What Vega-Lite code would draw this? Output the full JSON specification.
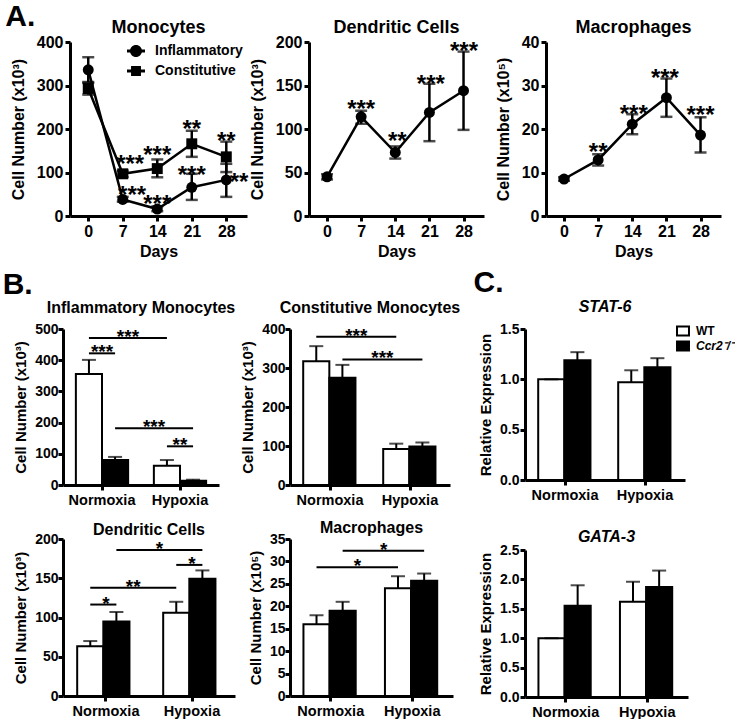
{
 "$schema": "https://vega.github.io/schema/vega-lite/v6.json",
 "padding": {"left": 2, "top": 2, "right": 0, "bottom": 0},
 "background": "white",
 "config": {
  "font": "Liberation Sans",
  "view": {"stroke": null},
  "axis": {"domain": true, "ticks": true, "labelOverlap": false, "domainColor": "#000000", "domainOpacity": 1, "domainWidth": 3, "tickColor": "#000000", "tickOpacity": 1, "tickWidth": 3, "tickSize": 5, "labelColor": "black", "labelFontWeight": "bold", "labelFont": "Liberation Sans", "titleFont": "Liberation Sans", "titleColor": "black", "titleFontWeight": "bold", "grid": false, "labelPadding": 2, "labelFontSize": 14.5, "titleFontSize": 15, "titlePadding": 6},
  "title": {"font": "Liberation Sans", "color": "black", "fontWeight": "bold", "fontSize": 16},
  "legend": {"labelFont": "Liberation Sans", "labelFontWeight": "bold", "labelColor": "black"},
  "text": {"font": "Liberation Sans"}
 },
 "datasets": {
  "ts": [
   {"panel": "Monocytes", "series": "Inflammatory", "day": 0, "mean": 336, "lo": 308, "hi": 365},
   {"panel": "Monocytes", "series": "Inflammatory", "day": 7, "mean": 38, "lo": 33, "hi": 44},
   {"panel": "Monocytes", "series": "Inflammatory", "day": 14, "mean": 16, "lo": 11, "hi": 22},
   {"panel": "Monocytes", "series": "Inflammatory", "day": 21, "mean": 66, "lo": 37, "hi": 97},
   {"panel": "Monocytes", "series": "Inflammatory", "day": 28, "mean": 83, "lo": 44, "hi": 120},
   {"panel": "Monocytes", "series": "Constitutive", "day": 0, "mean": 293, "lo": 279, "hi": 306},
   {"panel": "Monocytes", "series": "Constitutive", "day": 7, "mean": 97, "lo": 90, "hi": 104},
   {"panel": "Monocytes", "series": "Constitutive", "day": 14, "mean": 109, "lo": 89, "hi": 130},
   {"panel": "Monocytes", "series": "Constitutive", "day": 21, "mean": 166, "lo": 136, "hi": 196},
   {"panel": "Monocytes", "series": "Constitutive", "day": 28, "mean": 136, "lo": 101, "hi": 171},
   {"panel": "DC", "series": "DC", "day": 0, "mean": 45, "lo": 42, "hi": 48},
   {"panel": "DC", "series": "DC", "day": 7, "mean": 114, "lo": 106, "hi": 121},
   {"panel": "DC", "series": "DC", "day": 14, "mean": 73, "lo": 66, "hi": 80},
   {"panel": "DC", "series": "DC", "day": 21, "mean": 119, "lo": 86, "hi": 152},
   {"panel": "DC", "series": "DC", "day": 28, "mean": 144, "lo": 99, "hi": 189},
   {"panel": "Macro", "series": "Macro", "day": 0, "mean": 8.5, "lo": 8.1, "hi": 8.9},
   {"panel": "Macro", "series": "Macro", "day": 7, "mean": 12.9, "lo": 11.6, "hi": 14.2},
   {"panel": "Macro", "series": "Macro", "day": 14, "mean": 21.1, "lo": 18.8, "hi": 23.4},
   {"panel": "Macro", "series": "Macro", "day": 21, "mean": 27.2, "lo": 22.8, "hi": 31.6},
   {"panel": "Macro", "series": "Macro", "day": 28, "mean": 18.6, "lo": 14.6, "hi": 22.7}
  ],
  "tsStar": [
   {"panel": "Monocytes", "day": 8.5, "y": 124, "label": "***"},
   {"panel": "Monocytes", "day": 14, "y": 145, "label": "***"},
   {"panel": "Monocytes", "day": 21, "y": 204, "label": "**"},
   {"panel": "Monocytes", "day": 28, "y": 177, "label": "**"},
   {"panel": "Monocytes", "day": 8.9, "y": 53, "label": "***"},
   {"panel": "Monocytes", "day": 14, "y": 32, "label": "***"},
   {"panel": "Monocytes", "day": 21, "y": 99, "label": "***"},
   {"panel": "Monocytes", "day": 30.6, "y": 83, "label": "**"},
   {"panel": "DC", "day": 7, "y": 125, "label": "***"},
   {"panel": "DC", "day": 14.4, "y": 88, "label": "**"},
   {"panel": "DC", "day": 21.3, "y": 154, "label": "***"},
   {"panel": "DC", "day": 28.1, "y": 192, "label": "***"},
   {"panel": "Macro", "day": 7, "y": 15.2, "label": "**"},
   {"panel": "Macro", "day": 14.3, "y": 24, "label": "***"},
   {"panel": "Macro", "day": 20.7, "y": 32.1, "label": "***"},
   {"panel": "Macro", "day": 28, "y": 23.7, "label": "***"}
  ],
  "bars": [
   {"panel": "Inflam", "condition": "Normoxia", "genotype": "WT", "mean": 356, "hi": 401},
   {"panel": "Inflam", "condition": "Normoxia", "genotype": "Ccr2-/-", "mean": 80, "hi": 90},
   {"panel": "Inflam", "condition": "Hypoxia", "genotype": "WT", "mean": 62, "hi": 80},
   {"panel": "Inflam", "condition": "Hypoxia", "genotype": "Ccr2-/-", "mean": 14, "hi": 17},
   {"panel": "Constit", "condition": "Normoxia", "genotype": "WT", "mean": 317, "hi": 356},
   {"panel": "Constit", "condition": "Normoxia", "genotype": "Ccr2-/-", "mean": 275, "hi": 308},
   {"panel": "Constit", "condition": "Hypoxia", "genotype": "WT", "mean": 92, "hi": 106},
   {"panel": "Constit", "condition": "Hypoxia", "genotype": "Ccr2-/-", "mean": 99, "hi": 109},
   {"panel": "DCB", "condition": "Normoxia", "genotype": "WT", "mean": 63.5, "hi": 70},
   {"panel": "DCB", "condition": "Normoxia", "genotype": "Ccr2-/-", "mean": 95, "hi": 107},
   {"panel": "DCB", "condition": "Hypoxia", "genotype": "WT", "mean": 106, "hi": 120},
   {"panel": "DCB", "condition": "Hypoxia", "genotype": "Ccr2-/-", "mean": 149.5, "hi": 160},
   {"panel": "MacroB", "condition": "Normoxia", "genotype": "WT", "mean": 16, "hi": 18},
   {"panel": "MacroB", "condition": "Normoxia", "genotype": "Ccr2-/-", "mean": 19, "hi": 21},
   {"panel": "MacroB", "condition": "Hypoxia", "genotype": "WT", "mean": 24, "hi": 26.7},
   {"panel": "MacroB", "condition": "Hypoxia", "genotype": "Ccr2-/-", "mean": 25.7, "hi": 27.3},
   {"panel": "STAT6", "condition": "Normoxia", "genotype": "WT", "mean": 1.0, "hi": 1.0},
   {"panel": "STAT6", "condition": "Normoxia", "genotype": "Ccr2-/-", "mean": 1.19, "hi": 1.27},
   {"panel": "STAT6", "condition": "Hypoxia", "genotype": "WT", "mean": 0.97, "hi": 1.09},
   {"panel": "STAT6", "condition": "Hypoxia", "genotype": "Ccr2-/-", "mean": 1.12, "hi": 1.21},
   {"panel": "GATA3", "condition": "Normoxia", "genotype": "WT", "mean": 1.0, "hi": 1.0},
   {"panel": "GATA3", "condition": "Normoxia", "genotype": "Ccr2-/-", "mean": 1.55, "hi": 1.9},
   {"panel": "GATA3", "condition": "Hypoxia", "genotype": "WT", "mean": 1.62, "hi": 1.96},
   {"panel": "GATA3", "condition": "Hypoxia", "genotype": "Ccr2-/-", "mean": 1.87, "hi": 2.15}
  ],
  "sigLine": [
   {"panel": "Inflam", "pair": 1, "condition": "Normoxia", "genotype": "WT", "y": 471},
   {"panel": "Inflam", "pair": 1, "condition": "Hypoxia", "genotype": "WT", "y": 471},
   {"panel": "Inflam", "pair": 2, "condition": "Normoxia", "genotype": "WT", "y": 422},
   {"panel": "Inflam", "pair": 2, "condition": "Normoxia", "genotype": "Ccr2-/-", "y": 422},
   {"panel": "Inflam", "pair": 3, "condition": "Normoxia", "genotype": "Ccr2-/-", "y": 182},
   {"panel": "Inflam", "pair": 3, "condition": "Hypoxia", "genotype": "Ccr2-/-", "y": 182},
   {"panel": "Inflam", "pair": 4, "condition": "Hypoxia", "genotype": "WT", "y": 124},
   {"panel": "Inflam", "pair": 4, "condition": "Hypoxia", "genotype": "Ccr2-/-", "y": 124},
   {"panel": "Constit", "pair": 1, "condition": "Normoxia", "genotype": "WT", "y": 380},
   {"panel": "Constit", "pair": 1, "condition": "Hypoxia", "genotype": "WT", "y": 380},
   {"panel": "Constit", "pair": 2, "condition": "Normoxia", "genotype": "Ccr2-/-", "y": 322},
   {"panel": "Constit", "pair": 2, "condition": "Hypoxia", "genotype": "Ccr2-/-", "y": 322},
   {"panel": "DCB", "pair": 1, "condition": "Normoxia", "genotype": "WT", "y": 116.5},
   {"panel": "DCB", "pair": 1, "condition": "Normoxia", "genotype": "Ccr2-/-", "y": 116.5},
   {"panel": "DCB", "pair": 2, "condition": "Normoxia", "genotype": "WT", "y": 138},
   {"panel": "DCB", "pair": 2, "condition": "Hypoxia", "genotype": "WT", "y": 138},
   {"panel": "DCB", "pair": 3, "condition": "Normoxia", "genotype": "Ccr2-/-", "y": 186},
   {"panel": "DCB", "pair": 3, "condition": "Hypoxia", "genotype": "Ccr2-/-", "y": 186},
   {"panel": "DCB", "pair": 4, "condition": "Hypoxia", "genotype": "WT", "y": 167},
   {"panel": "DCB", "pair": 4, "condition": "Hypoxia", "genotype": "Ccr2-/-", "y": 167},
   {"panel": "MacroB", "pair": 1, "condition": "Normoxia", "genotype": "WT", "y": 28.7},
   {"panel": "MacroB", "pair": 1, "condition": "Hypoxia", "genotype": "WT", "y": 28.7},
   {"panel": "MacroB", "pair": 2, "condition": "Normoxia", "genotype": "Ccr2-/-", "y": 32.4},
   {"panel": "MacroB", "pair": 2, "condition": "Hypoxia", "genotype": "Ccr2-/-", "y": 32.4}
  ],
  "sigText": [
   {"panel": "Inflam", "kind": "between", "condition": "Normoxia", "genotype": "WT", "y": 471, "label": "***"},
   {"panel": "Inflam", "kind": "within", "condition": "Normoxia", "genotype": "WT", "y": 422, "label": "***"},
   {"panel": "Inflam", "kind": "between", "condition": "Normoxia", "genotype": "Ccr2-/-", "y": 182, "label": "***"},
   {"panel": "Inflam", "kind": "within", "condition": "Hypoxia", "genotype": "WT", "y": 124, "label": "**"},
   {"panel": "Constit", "kind": "between", "condition": "Normoxia", "genotype": "WT", "y": 380, "label": "***"},
   {"panel": "Constit", "kind": "between", "condition": "Normoxia", "genotype": "Ccr2-/-", "y": 322, "label": "***"},
   {"panel": "DCB", "kind": "within", "condition": "Normoxia", "genotype": "WT", "y": 116.5, "label": "*"},
   {"panel": "DCB", "kind": "between", "condition": "Normoxia", "genotype": "WT", "y": 138, "label": "**"},
   {"panel": "DCB", "kind": "between", "condition": "Normoxia", "genotype": "Ccr2-/-", "y": 186, "label": "*"},
   {"panel": "DCB", "kind": "within", "condition": "Hypoxia", "genotype": "WT", "y": 167, "label": "*"},
   {"panel": "MacroB", "kind": "between", "condition": "Normoxia", "genotype": "WT", "y": 28.7, "label": "*"},
   {"panel": "MacroB", "kind": "between", "condition": "Normoxia", "genotype": "Ccr2-/-", "y": 32.4, "label": "*"}
  ]
 },
 "spacing": 9,
 "resolve": {"scale": {"fill": "independent", "shape": "independent"}, "legend": {"fill": "independent", "shape": "independent"}},
 "vconcat": [
  {
   "bounds": "flush",
   "spacing": 6,
   "hconcat": [
    {"width": 1, "height": 1, "data": {"values": []}, "mark": {"type": "point", "opacity": 0}, "encoding": {}},
    {
     "title": {"text": "A.", "fontSize": 30, "anchor": "start", "offset": -13, "dx": -5},
     "bounds": "flush",
     "spacing": 62,
     "hconcat": [
      {
       "width": 177, "height": 174,
       "title": {"text": "Monocytes", "fontSize": 18, "offset": -3},
       "data": {"name": "ts"},
       "transform": [{"filter": "datum.panel == 'Monocytes'"}],
       "encoding": {"x": {"field": "day", "type": "quantitative", "scale": {"domain": [-3.7, 32.2], "nice": false, "zero": false}, "axis": {"values": [0, 7, 14, 21, 28], "title": "Days", "labelFontSize": 16, "titleFontSize": 16, "labelFlush": false, "labelPadding": 2, "titlePadding": 4}}},
       "layer": [
        {"mark": {"type": "rule", "color": "black", "strokeWidth": 2.5}, "encoding": {"y": {"field": "lo", "type": "quantitative", "scale": {"domain": [0, 400], "nice": false}, "title": "Cell Number (x10³)", "axis": {"values": [0, 100, 200, 300, 400], "labelFontSize": 16, "titleFontSize": 16, "titlePadding": 10}}, "y2": {"field": "hi"}}},
        {"mark": {"type": "tick", "orient": "horizontal", "color": "black", "size": 12, "thickness": 2.5}, "encoding": {"y": {"field": "lo", "type": "quantitative", "scale": {"domain": [0, 400], "nice": false}, "title": "Cell Number (x10³)", "axis": {"values": [0, 100, 200, 300, 400], "labelFontSize": 16, "titleFontSize": 16, "titlePadding": 10}}}},
        {"mark": {"type": "tick", "orient": "horizontal", "color": "black", "size": 12, "thickness": 2.5}, "encoding": {"y": {"field": "hi", "type": "quantitative", "scale": {"domain": [0, 400], "nice": false}, "title": "Cell Number (x10³)", "axis": {"values": [0, 100, 200, 300, 400], "labelFontSize": 16, "titleFontSize": 16, "titlePadding": 10}}}},
        {"mark": {"type": "line", "color": "black", "strokeWidth": 2.5}, "encoding": {"y": {"field": "mean", "type": "quantitative", "scale": {"domain": [0, 400], "nice": false}, "title": "Cell Number (x10³)", "axis": {"values": [0, 100, 200, 300, 400], "labelFontSize": 16, "titleFontSize": 16, "titlePadding": 10}}, "detail": {"field": "series"}}},
        {"mark": {"type": "point", "filled": true, "color": "black", "size": 120, "opacity": 1}, "encoding": {"y": {"field": "mean", "type": "quantitative", "scale": {"domain": [0, 400], "nice": false}, "title": "Cell Number (x10³)", "axis": {"values": [0, 100, 200, 300, 400], "labelFontSize": 16, "titleFontSize": 16, "titlePadding": 10}}, "shape": {"field": "series", "type": "nominal", "scale": {"domain": ["Inflammatory", "Constitutive"], "range": ["circle", "square"]}, "legend": null}}},
        {"mark": {"type": "point", "filled": true, "color": "black", "opacity": 0}, "encoding": {"y": {"field": "mean", "type": "quantitative", "scale": {"domain": [0, 400], "nice": false}, "title": "Cell Number (x10³)", "axis": {"values": [0, 100, 200, 300, 400], "labelFontSize": 16, "titleFontSize": 16, "titlePadding": 10}}, "shape": {"field": "series", "type": "nominal", "scale": {"domain": ["Inflammatory", "Constitutive"], "range": ["M-1,-0.17H1V0.17H-1Z M0.67,0A0.67,0.67,0,1,1,-0.67,0A0.67,0.67,0,1,1,0.67,0Z", "M-1,-0.17H1V0.17H-1Z M-0.55,-0.55H0.55V0.55H-0.55Z"]}, "legend": {"orient": "none", "legendX": 57, "legendY": 0, "title": null, "symbolSize": 324, "symbolFillColor": "black", "symbolStrokeWidth": 0, "symbolOpacity": 1, "labelFontSize": 14, "labelOffset": 10, "rowPadding": 4}}}},
        {"data": {"name": "tsStar"}, "transform": [{"filter": "datum.panel == 'Monocytes'"}], "mark": {"type": "text", "fontSize": 24, "fontWeight": "bold", "color": "black", "baseline": "alphabetic", "dy": 10}, "encoding": {"y": {"field": "y", "type": "quantitative", "scale": {"domain": [0, 400], "nice": false}, "title": "Cell Number (x10³)", "axis": {"values": [0, 100, 200, 300, 400], "labelFontSize": 16, "titleFontSize": 16, "titlePadding": 10}}, "text": {"field": "label"}}}
       ],
       "resolve": {"scale": {"shape": "independent"}}
      },
      {
       "width": 175, "height": 174,
       "title": {"text": "Dendritic Cells", "fontSize": 18, "offset": -3},
       "data": {"name": "ts"},
       "transform": [{"filter": "datum.panel == 'DC'"}],
       "encoding": {"x": {"field": "day", "type": "quantitative", "scale": {"domain": [-3.7, 32.2], "nice": false, "zero": false}, "axis": {"values": [0, 7, 14, 21, 28], "title": "Days", "labelFontSize": 16, "titleFontSize": 16, "labelFlush": false, "labelPadding": 2, "titlePadding": 4}}},
       "layer": [
        {"mark": {"type": "rule", "color": "black", "strokeWidth": 2.5}, "encoding": {"y": {"field": "lo", "type": "quantitative", "scale": {"domain": [0, 200], "nice": false}, "title": "Cell Number (x10³)", "axis": {"values": [0, 50, 100, 150, 200], "labelFontSize": 16, "titleFontSize": 16, "titlePadding": 10}}, "y2": {"field": "hi"}}},
        {"mark": {"type": "tick", "orient": "horizontal", "color": "black", "size": 12, "thickness": 2.5}, "encoding": {"y": {"field": "lo", "type": "quantitative", "scale": {"domain": [0, 200], "nice": false}, "title": "Cell Number (x10³)", "axis": {"values": [0, 50, 100, 150, 200], "labelFontSize": 16, "titleFontSize": 16, "titlePadding": 10}}}},
        {"mark": {"type": "tick", "orient": "horizontal", "color": "black", "size": 12, "thickness": 2.5}, "encoding": {"y": {"field": "hi", "type": "quantitative", "scale": {"domain": [0, 200], "nice": false}, "title": "Cell Number (x10³)", "axis": {"values": [0, 50, 100, 150, 200], "labelFontSize": 16, "titleFontSize": 16, "titlePadding": 10}}}},
        {"mark": {"type": "line", "color": "black", "strokeWidth": 2.5}, "encoding": {"y": {"field": "mean", "type": "quantitative", "scale": {"domain": [0, 200], "nice": false}, "title": "Cell Number (x10³)", "axis": {"values": [0, 50, 100, 150, 200], "labelFontSize": 16, "titleFontSize": 16, "titlePadding": 10}}}},
        {"mark": {"type": "point", "filled": true, "color": "black", "size": 120, "opacity": 1, "shape": "circle"}, "encoding": {"y": {"field": "mean", "type": "quantitative", "scale": {"domain": [0, 200], "nice": false}, "title": "Cell Number (x10³)", "axis": {"values": [0, 50, 100, 150, 200], "labelFontSize": 16, "titleFontSize": 16, "titlePadding": 10}}}},
        {"data": {"name": "tsStar"}, "transform": [{"filter": "datum.panel == 'DC'"}], "mark": {"type": "text", "fontSize": 24, "fontWeight": "bold", "color": "black", "baseline": "alphabetic", "dy": 10}, "encoding": {"y": {"field": "y", "type": "quantitative", "scale": {"domain": [0, 200], "nice": false}, "title": "Cell Number (x10³)", "axis": {"values": [0, 50, 100, 150, 200], "labelFontSize": 16, "titleFontSize": 16, "titlePadding": 10}}, "text": {"field": "label"}}}
       ]
      },
      {
       "width": 175, "height": 174,
       "title": {"text": "Macrophages", "fontSize": 18, "offset": -3},
       "data": {"name": "ts"},
       "transform": [{"filter": "datum.panel == 'Macro'"}],
       "encoding": {"x": {"field": "day", "type": "quantitative", "scale": {"domain": [-3.7, 32.2], "nice": false, "zero": false}, "axis": {"values": [0, 7, 14, 21, 28], "title": "Days", "labelFontSize": 16, "titleFontSize": 16, "labelFlush": false, "labelPadding": 2, "titlePadding": 4}}},
       "layer": [
        {"mark": {"type": "rule", "color": "black", "strokeWidth": 2.5}, "encoding": {"y": {"field": "lo", "type": "quantitative", "scale": {"domain": [0, 40], "nice": false}, "title": "Cell Number (x10⁵)", "axis": {"values": [0, 10, 20, 30, 40], "labelFontSize": 16, "titleFontSize": 16, "titlePadding": 10}}, "y2": {"field": "hi"}}},
        {"mark": {"type": "tick", "orient": "horizontal", "color": "black", "size": 12, "thickness": 2.5}, "encoding": {"y": {"field": "lo", "type": "quantitative", "scale": {"domain": [0, 40], "nice": false}, "title": "Cell Number (x10⁵)", "axis": {"values": [0, 10, 20, 30, 40], "labelFontSize": 16, "titleFontSize": 16, "titlePadding": 10}}}},
        {"mark": {"type": "tick", "orient": "horizontal", "color": "black", "size": 12, "thickness": 2.5}, "encoding": {"y": {"field": "hi", "type": "quantitative", "scale": {"domain": [0, 40], "nice": false}, "title": "Cell Number (x10⁵)", "axis": {"values": [0, 10, 20, 30, 40], "labelFontSize": 16, "titleFontSize": 16, "titlePadding": 10}}}},
        {"mark": {"type": "line", "color": "black", "strokeWidth": 2.5}, "encoding": {"y": {"field": "mean", "type": "quantitative", "scale": {"domain": [0, 40], "nice": false}, "title": "Cell Number (x10⁵)", "axis": {"values": [0, 10, 20, 30, 40], "labelFontSize": 16, "titleFontSize": 16, "titlePadding": 10}}}},
        {"mark": {"type": "point", "filled": true, "color": "black", "size": 120, "opacity": 1, "shape": "circle"}, "encoding": {"y": {"field": "mean", "type": "quantitative", "scale": {"domain": [0, 40], "nice": false}, "title": "Cell Number (x10⁵)", "axis": {"values": [0, 10, 20, 30, 40], "labelFontSize": 16, "titleFontSize": 16, "titlePadding": 10}}}},
        {"data": {"name": "tsStar"}, "transform": [{"filter": "datum.panel == 'Macro'"}], "mark": {"type": "text", "fontSize": 24, "fontWeight": "bold", "color": "black", "baseline": "alphabetic", "dy": 10}, "encoding": {"y": {"field": "y", "type": "quantitative", "scale": {"domain": [0, 40], "nice": false}, "title": "Cell Number (x10⁵)", "axis": {"values": [0, 10, 20, 30, 40], "labelFontSize": 16, "titleFontSize": 16, "titlePadding": 10}}, "text": {"field": "label"}}}
       ]
      }
     ]
    }
   ]
  },
  {
   "spacing": 12,
   "resolve": {"scale": {"fill": "independent"}, "legend": {"fill": "independent"}},
   "hconcat": [
    {
     "title": {"text": "B.", "fontSize": 30, "anchor": "start", "offset": 0, "dx": -11},
     "bounds": "flush",
     "columns": 2,
     "spacing": {"row": 54, "column": 55},
     "resolve": {"scale": {"fill": "independent"}, "legend": {"fill": "independent"}},
     "concat": [
      {
       "width": 156, "height": 156,
       "title": {"text": "Inflammatory Monocytes", "offset": 6},
       "data": {"name": "bars"},
       "transform": [{"filter": "datum.panel == 'Inflam'"}],
       "encoding": {"x": {"field": "condition", "type": "nominal", "scale": {"domain": ["Normoxia", "Hypoxia"], "paddingInner": 0.33, "paddingOuter": 0.165}, "axis": {"title": null, "labelAngle": 0, "labelPadding": 3, "ticks": true}}},
       "layer": [
        {"mark": {"type": "bar", "stroke": "black", "strokeWidth": 2}, "encoding": {"xOffset": {"field": "genotype", "type": "nominal", "scale": {"domain": ["WT", "Ccr2-/-"]}}, "y": {"field": "mean", "type": "quantitative", "scale": {"domain": [0, 500], "nice": false}, "title": "Cell Number (x10³)", "axis": {"values": [0, 100, 200, 300, 400, 500], "labelFontSize": 14, "titlePadding": 6, "labelPadding": 0}}, "fill": {"field": "genotype", "type": "nominal", "scale": {"domain": ["WT", "Ccr2-/-"], "range": ["white", "black"]}, "legend": null}}},
        {"mark": {"type": "rule", "color": "black", "strokeWidth": 2}, "encoding": {"xOffset": {"field": "genotype", "type": "nominal"}, "y": {"field": "mean", "type": "quantitative", "scale": {"domain": [0, 500], "nice": false}, "title": "Cell Number (x10³)", "axis": {"values": [0, 100, 200, 300, 400, 500], "labelFontSize": 14, "titlePadding": 6, "labelPadding": 0}}, "y2": {"field": "hi"}}},
        {"mark": {"type": "tick", "orient": "horizontal", "color": "black", "size": 14, "thickness": 2}, "encoding": {"xOffset": {"field": "genotype", "type": "nominal"}, "y": {"field": "hi", "type": "quantitative", "scale": {"domain": [0, 500], "nice": false}, "title": "Cell Number (x10³)", "axis": {"values": [0, 100, 200, 300, 400, 500], "labelFontSize": 14, "titlePadding": 6, "labelPadding": 0}}}},
        {"data": {"name": "sigLine"}, "transform": [{"filter": "datum.panel == 'Inflam'"}], "mark": {"type": "line", "color": "black", "strokeWidth": 2}, "encoding": {"xOffset": {"field": "genotype", "type": "nominal"}, "y": {"field": "y", "type": "quantitative", "scale": {"domain": [0, 500], "nice": false}, "title": "Cell Number (x10³)", "axis": {"values": [0, 100, 200, 300, 400, 500], "labelFontSize": 14, "titlePadding": 6, "labelPadding": 0}}, "detail": {"field": "pair"}}},
        {"data": {"name": "sigText"}, "transform": [{"filter": "datum.panel == 'Inflam' && datum.kind == 'within'"}], "mark": {"type": "text", "fontSize": 19, "fontWeight": "bold", "color": "black", "baseline": "alphabetic", "dy": 5}, "encoding": {"y": {"field": "y", "type": "quantitative", "scale": {"domain": [0, 500], "nice": false}, "title": "Cell Number (x10³)", "axis": {"values": [0, 100, 200, 300, 400, 500], "labelFontSize": 14, "titlePadding": 6, "labelPadding": 0}}, "text": {"field": "label"}}},
        {"data": {"name": "sigText"}, "transform": [{"filter": "datum.panel == 'Inflam' && datum.kind == 'between'"}], "mark": {"type": "text", "fontSize": 19, "fontWeight": "bold", "color": "black", "baseline": "alphabetic", "dy": 5, "dx": 39}, "encoding": {"xOffset": {"field": "genotype", "type": "nominal"}, "y": {"field": "y", "type": "quantitative", "scale": {"domain": [0, 500], "nice": false}, "title": "Cell Number (x10³)", "axis": {"values": [0, 100, 200, 300, 400, 500], "labelFontSize": 14, "titlePadding": 6, "labelPadding": 0}}, "text": {"field": "label"}}}
       ]
      },
      {
       "width": 160, "height": 156,
       "title": {"text": "Constitutive Monocytes", "offset": 6},
       "data": {"name": "bars"},
       "transform": [{"filter": "datum.panel == 'Constit'"}],
       "encoding": {"x": {"field": "condition", "type": "nominal", "scale": {"domain": ["Normoxia", "Hypoxia"], "paddingInner": 0.33, "paddingOuter": 0.165}, "axis": {"title": null, "labelAngle": 0, "labelPadding": 3, "ticks": true}}},
       "layer": [
        {"mark": {"type": "bar", "stroke": "black", "strokeWidth": 2}, "encoding": {"xOffset": {"field": "genotype", "type": "nominal", "scale": {"domain": ["WT", "Ccr2-/-"]}}, "y": {"field": "mean", "type": "quantitative", "scale": {"domain": [0, 400], "nice": false}, "title": "Cell Number (x10³)", "axis": {"values": [0, 100, 200, 300, 400], "labelFontSize": 14, "titlePadding": 6, "labelPadding": 0}}, "fill": {"field": "genotype", "type": "nominal", "scale": {"domain": ["WT", "Ccr2-/-"], "range": ["white", "black"]}, "legend": null}}},
        {"mark": {"type": "rule", "color": "black", "strokeWidth": 2}, "encoding": {"xOffset": {"field": "genotype", "type": "nominal"}, "y": {"field": "mean", "type": "quantitative", "scale": {"domain": [0, 400], "nice": false}, "title": "Cell Number (x10³)", "axis": {"values": [0, 100, 200, 300, 400], "labelFontSize": 14, "titlePadding": 6, "labelPadding": 0}}, "y2": {"field": "hi"}}},
        {"mark": {"type": "tick", "orient": "horizontal", "color": "black", "size": 14, "thickness": 2}, "encoding": {"xOffset": {"field": "genotype", "type": "nominal"}, "y": {"field": "hi", "type": "quantitative", "scale": {"domain": [0, 400], "nice": false}, "title": "Cell Number (x10³)", "axis": {"values": [0, 100, 200, 300, 400], "labelFontSize": 14, "titlePadding": 6, "labelPadding": 0}}}},
        {"data": {"name": "sigLine"}, "transform": [{"filter": "datum.panel == 'Constit'"}], "mark": {"type": "line", "color": "black", "strokeWidth": 2}, "encoding": {"xOffset": {"field": "genotype", "type": "nominal"}, "y": {"field": "y", "type": "quantitative", "scale": {"domain": [0, 400], "nice": false}, "title": "Cell Number (x10³)", "axis": {"values": [0, 100, 200, 300, 400], "labelFontSize": 14, "titlePadding": 6, "labelPadding": 0}}, "detail": {"field": "pair"}}},
        {"data": {"name": "sigText"}, "transform": [{"filter": "datum.panel == 'Constit' && datum.kind == 'between'"}], "mark": {"type": "text", "fontSize": 19, "fontWeight": "bold", "color": "black", "baseline": "alphabetic", "dy": 5, "dx": 40}, "encoding": {"xOffset": {"field": "genotype", "type": "nominal"}, "y": {"field": "y", "type": "quantitative", "scale": {"domain": [0, 400], "nice": false}, "title": "Cell Number (x10³)", "axis": {"values": [0, 100, 200, 300, 400], "labelFontSize": 14, "titlePadding": 6, "labelPadding": 0}}, "text": {"field": "label"}}}
       ]
      },
      {
       "width": 172, "height": 157,
       "title": {"text": "Dendritic Cells", "offset": -6},
       "data": {"name": "bars"},
       "transform": [{"filter": "datum.panel == 'DCB'"}],
       "encoding": {"x": {"field": "condition", "type": "nominal", "scale": {"domain": ["Normoxia", "Hypoxia"], "paddingInner": 0.33, "paddingOuter": 0.165}, "axis": {"title": null, "labelAngle": 0, "labelPadding": 3, "ticks": true}}},
       "layer": [
        {"mark": {"type": "bar", "stroke": "black", "strokeWidth": 2}, "encoding": {"xOffset": {"field": "genotype", "type": "nominal", "scale": {"domain": ["WT", "Ccr2-/-"]}}, "y": {"field": "mean", "type": "quantitative", "scale": {"domain": [0, 200], "nice": false}, "title": "Cell Number (x10³)", "axis": {"values": [0, 50, 100, 150, 200], "labelFontSize": 14, "titlePadding": 6, "labelPadding": 0}}, "fill": {"field": "genotype", "type": "nominal", "scale": {"domain": ["WT", "Ccr2-/-"], "range": ["white", "black"]}, "legend": null}}},
        {"mark": {"type": "rule", "color": "black", "strokeWidth": 2}, "encoding": {"xOffset": {"field": "genotype", "type": "nominal"}, "y": {"field": "mean", "type": "quantitative", "scale": {"domain": [0, 200], "nice": false}, "title": "Cell Number (x10³)", "axis": {"values": [0, 50, 100, 150, 200], "labelFontSize": 14, "titlePadding": 6, "labelPadding": 0}}, "y2": {"field": "hi"}}},
        {"mark": {"type": "tick", "orient": "horizontal", "color": "black", "size": 14, "thickness": 2}, "encoding": {"xOffset": {"field": "genotype", "type": "nominal"}, "y": {"field": "hi", "type": "quantitative", "scale": {"domain": [0, 200], "nice": false}, "title": "Cell Number (x10³)", "axis": {"values": [0, 50, 100, 150, 200], "labelFontSize": 14, "titlePadding": 6, "labelPadding": 0}}}},
        {"data": {"name": "sigLine"}, "transform": [{"filter": "datum.panel == 'DCB'"}], "mark": {"type": "line", "color": "black", "strokeWidth": 2}, "encoding": {"xOffset": {"field": "genotype", "type": "nominal"}, "y": {"field": "y", "type": "quantitative", "scale": {"domain": [0, 200], "nice": false}, "title": "Cell Number (x10³)", "axis": {"values": [0, 50, 100, 150, 200], "labelFontSize": 14, "titlePadding": 6, "labelPadding": 0}}, "detail": {"field": "pair"}}},
        {"data": {"name": "sigText"}, "transform": [{"filter": "datum.panel == 'DCB' && datum.kind == 'within'"}], "mark": {"type": "text", "fontSize": 19, "fontWeight": "bold", "color": "black", "baseline": "alphabetic", "dy": 5}, "encoding": {"y": {"field": "y", "type": "quantitative", "scale": {"domain": [0, 200], "nice": false}, "title": "Cell Number (x10³)", "axis": {"values": [0, 50, 100, 150, 200], "labelFontSize": 14, "titlePadding": 6, "labelPadding": 0}}, "text": {"field": "label"}}},
        {"data": {"name": "sigText"}, "transform": [{"filter": "datum.panel == 'DCB' && datum.kind == 'between'"}], "mark": {"type": "text", "fontSize": 19, "fontWeight": "bold", "color": "black", "baseline": "alphabetic", "dy": 5, "dx": 43}, "encoding": {"xOffset": {"field": "genotype", "type": "nominal"}, "y": {"field": "y", "type": "quantitative", "scale": {"domain": [0, 200], "nice": false}, "title": "Cell Number (x10³)", "axis": {"values": [0, 50, 100, 150, 200], "labelFontSize": 14, "titlePadding": 6, "labelPadding": 0}}, "text": {"field": "label"}}}
       ]
      },
      {
       "width": 163, "height": 157,
       "title": {"text": "Macrophages", "offset": -4},
       "data": {"name": "bars"},
       "transform": [{"filter": "datum.panel == 'MacroB'"}],
       "encoding": {"x": {"field": "condition", "type": "nominal", "scale": {"domain": ["Normoxia", "Hypoxia"], "paddingInner": 0.33, "paddingOuter": 0.165}, "axis": {"title": null, "labelAngle": 0, "labelPadding": 3, "ticks": true}}},
       "layer": [
        {"mark": {"type": "bar", "stroke": "black", "strokeWidth": 2}, "encoding": {"xOffset": {"field": "genotype", "type": "nominal", "scale": {"domain": ["WT", "Ccr2-/-"]}}, "y": {"field": "mean", "type": "quantitative", "scale": {"domain": [0, 35], "nice": false}, "title": "Cell Number (x10⁵)", "axis": {"values": [0, 5, 10, 15, 20, 25, 30, 35], "labelFontSize": 14, "titlePadding": 6, "labelPadding": 0}}, "fill": {"field": "genotype", "type": "nominal", "scale": {"domain": ["WT", "Ccr2-/-"], "range": ["white", "black"]}, "legend": null}}},
        {"mark": {"type": "rule", "color": "black", "strokeWidth": 2}, "encoding": {"xOffset": {"field": "genotype", "type": "nominal"}, "y": {"field": "mean", "type": "quantitative", "scale": {"domain": [0, 35], "nice": false}, "title": "Cell Number (x10⁵)", "axis": {"values": [0, 5, 10, 15, 20, 25, 30, 35], "labelFontSize": 14, "titlePadding": 6, "labelPadding": 0}}, "y2": {"field": "hi"}}},
        {"mark": {"type": "tick", "orient": "horizontal", "color": "black", "size": 14, "thickness": 2}, "encoding": {"xOffset": {"field": "genotype", "type": "nominal"}, "y": {"field": "hi", "type": "quantitative", "scale": {"domain": [0, 35], "nice": false}, "title": "Cell Number (x10⁵)", "axis": {"values": [0, 5, 10, 15, 20, 25, 30, 35], "labelFontSize": 14, "titlePadding": 6, "labelPadding": 0}}}},
        {"data": {"name": "sigLine"}, "transform": [{"filter": "datum.panel == 'MacroB'"}], "mark": {"type": "line", "color": "black", "strokeWidth": 2}, "encoding": {"xOffset": {"field": "genotype", "type": "nominal"}, "y": {"field": "y", "type": "quantitative", "scale": {"domain": [0, 35], "nice": false}, "title": "Cell Number (x10⁵)", "axis": {"values": [0, 5, 10, 15, 20, 25, 30, 35], "labelFontSize": 14, "titlePadding": 6, "labelPadding": 0}}, "detail": {"field": "pair"}}},
        {"data": {"name": "sigText"}, "transform": [{"filter": "datum.panel == 'MacroB' && datum.kind == 'between'"}], "mark": {"type": "text", "fontSize": 19, "fontWeight": "bold", "color": "black", "baseline": "alphabetic", "dy": 5, "dx": 41}, "encoding": {"xOffset": {"field": "genotype", "type": "nominal"}, "y": {"field": "y", "type": "quantitative", "scale": {"domain": [0, 35], "nice": false}, "title": "Cell Number (x10⁵)", "axis": {"values": [0, 5, 10, 15, 20, 25, 30, 35], "labelFontSize": 14, "titlePadding": 6, "labelPadding": 0}}, "text": {"field": "label"}}}
       ]
      }
     ]
    },
    {
     "title": {"text": "C.", "fontSize": 30, "anchor": "start", "offset": 1, "dx": -5},
     "bounds": "flush",
     "spacing": 70,
     "resolve": {"scale": {"fill": "independent"}, "legend": {"fill": "independent"}},
     "vconcat": [
      {
       "width": 160, "height": 151,
       "title": {"text": "STAT-6", "fontStyle": "italic", "offset": 7},
       "data": {"name": "bars"},
       "transform": [{"filter": "datum.panel == 'STAT6'"}],
       "encoding": {"x": {"field": "condition", "type": "nominal", "scale": {"domain": ["Normoxia", "Hypoxia"], "paddingInner": 0.33, "paddingOuter": 0.165}, "axis": {"title": null, "labelAngle": 0, "labelPadding": 3, "ticks": true}}},
       "layer": [
        {"mark": {"type": "bar", "stroke": "black", "strokeWidth": 2}, "encoding": {"xOffset": {"field": "genotype", "type": "nominal", "scale": {"domain": ["WT", "Ccr2-/-"]}}, "y": {"field": "mean", "type": "quantitative", "scale": {"domain": [0, 1.5], "nice": false}, "title": "Relative Expression", "axis": {"values": [0, 0.5, 1, 1.5], "format": ".1f", "labelFontSize": 14, "titlePadding": 6, "labelPadding": 1}}, "fill": {"field": "genotype", "type": "nominal", "scale": {"domain": ["WT", "Ccr2-/-"], "range": ["white", "black"]}, "legend": {"orient": "none", "legendX": 152, "legendY": -4, "title": null, "symbolType": "M-1.33,-1H1.33V1H-1.33Z", "symbolSize": 81, "symbolStrokeColor": "black", "symbolStrokeWidth": 2, "labelFontSize": 12, "labelOffset": 7, "rowPadding": -7, "labelExpr": "datum.label == 'WT' ? 'WT' : 'Ccr2⁻/⁻'", "labelFontStyle": {"expr": "datum.label == 'WT' ? 'normal' : 'italic'"}}}}},
        {"mark": {"type": "rule", "color": "black", "strokeWidth": 2}, "encoding": {"xOffset": {"field": "genotype", "type": "nominal"}, "y": {"field": "mean", "type": "quantitative", "scale": {"domain": [0, 1.5], "nice": false}, "title": "Relative Expression", "axis": {"values": [0, 0.5, 1, 1.5], "format": ".1f", "labelFontSize": 14, "titlePadding": 6, "labelPadding": 1}}, "y2": {"field": "hi"}}},
        {"mark": {"type": "tick", "orient": "horizontal", "color": "black", "size": 14, "thickness": 2}, "encoding": {"xOffset": {"field": "genotype", "type": "nominal"}, "y": {"field": "hi", "type": "quantitative", "scale": {"domain": [0, 1.5], "nice": false}, "title": "Relative Expression", "axis": {"values": [0, 0.5, 1, 1.5], "format": ".1f", "labelFontSize": 14, "titlePadding": 6, "labelPadding": 1}}}}
       ]
      },
      {
       "width": 163, "height": 147,
       "title": {"text": "GATA-3", "fontStyle": "italic", "offset": -2},
       "data": {"name": "bars"},
       "transform": [{"filter": "datum.panel == 'GATA3'"}],
       "encoding": {"x": {"field": "condition", "type": "nominal", "scale": {"domain": ["Normoxia", "Hypoxia"], "paddingInner": 0.33, "paddingOuter": 0.165}, "axis": {"title": null, "labelAngle": 0, "labelPadding": 3, "ticks": true}}},
       "layer": [
        {"mark": {"type": "bar", "stroke": "black", "strokeWidth": 2}, "encoding": {"xOffset": {"field": "genotype", "type": "nominal", "scale": {"domain": ["WT", "Ccr2-/-"]}}, "y": {"field": "mean", "type": "quantitative", "scale": {"domain": [0, 2.5], "nice": false}, "title": "Relative Expression", "axis": {"values": [0, 0.5, 1, 1.5, 2, 2.5], "format": ".1f", "labelFontSize": 14, "titlePadding": 6, "labelPadding": 1}}, "fill": {"field": "genotype", "type": "nominal", "scale": {"domain": ["WT", "Ccr2-/-"], "range": ["white", "black"]}, "legend": null}}},
        {"mark": {"type": "rule", "color": "black", "strokeWidth": 2}, "encoding": {"xOffset": {"field": "genotype", "type": "nominal"}, "y": {"field": "mean", "type": "quantitative", "scale": {"domain": [0, 2.5], "nice": false}, "title": "Relative Expression", "axis": {"values": [0, 0.5, 1, 1.5, 2, 2.5], "format": ".1f", "labelFontSize": 14, "titlePadding": 6, "labelPadding": 1}}, "y2": {"field": "hi"}}},
        {"mark": {"type": "tick", "orient": "horizontal", "color": "black", "size": 14, "thickness": 2}, "encoding": {"xOffset": {"field": "genotype", "type": "nominal"}, "y": {"field": "hi", "type": "quantitative", "scale": {"domain": [0, 2.5], "nice": false}, "title": "Relative Expression", "axis": {"values": [0, 0.5, 1, 1.5, 2, 2.5], "format": ".1f", "labelFontSize": 14, "titlePadding": 6, "labelPadding": 1}}}}
       ]
      }
     ]
    }
   ]
  }
 ]
}
